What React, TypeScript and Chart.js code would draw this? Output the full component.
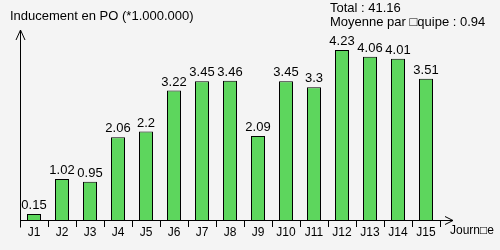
import React, { useEffect, useRef } from "react";
import { Chart, registerables } from "chart.js";

Chart.register(...registerables);

const categories = ["J1", "J2", "J3", "J4", "J5", "J6", "J7", "J8", "J9", "J10", "J11", "J12", "J13", "J14", "J15"];
const values = [0.15, 1.02, 0.95, 2.06, 2.2, 3.22, 3.45, 3.46, 2.09, 3.45, 3.3, 4.23, 4.06, 4.01, 3.51];
const titleText = "Inducement en PO (*1.000.000)";
const totalText = "Total : 41.16";
const averageText = "Moyenne par \u25A1quipe : 0.94";
const xAxisTitle = "Journ\u25A1e";

const FONT = "'Liberation Sans', Arial, sans-serif";

const decorPlugin = {
  id: "decor",
  beforeDraw(chart: any) {
    const { ctx, width, height } = chart;
    ctx.save();
    ctx.fillStyle = "#f4f4f4";
    ctx.fillRect(0, 0, width, height);
    ctx.restore();
  },
  afterDraw(chart: any) {
    const { ctx, chartArea } = chart;
    const x0 = chartArea.left + 0.5;
    const y0 = chartArea.bottom + 0.5;
    ctx.save();
    ctx.strokeStyle = "#000";
    ctx.lineWidth = 1;
    // y axis
    ctx.beginPath();
    ctx.moveTo(x0, 30);
    ctx.lineTo(x0, y0 + 7);
    ctx.stroke();
    ctx.beginPath();
    ctx.moveTo(16, 40);
    ctx.lineTo(x0, 30);
    ctx.lineTo(25, 40);
    ctx.stroke();
    // x axis
    ctx.beginPath();
    ctx.moveTo(x0, y0);
    ctx.lineTo(453, y0);
    ctx.stroke();
    ctx.beginPath();
    ctx.moveTo(445, y0 - 4);
    ctx.lineTo(453, y0);
    ctx.lineTo(445, y0 + 4);
    ctx.stroke();

    ctx.fillStyle = "#000";
    ctx.textBaseline = "middle";
    ctx.textAlign = "left";
    ctx.font = "13px " + FONT;
    ctx.fillText(titleText, 10, 16);
    ctx.fillText(totalText, 330, 8);
    ctx.fillText(averageText, 330, 22);
    ctx.font = "12px " + FONT;
    ctx.fillText(xAxisTitle, 450, 231);

    // value labels
    const meta = chart.getDatasetMeta(0);
    ctx.font = "13px " + FONT;
    ctx.textAlign = "center";
    ctx.textBaseline = "alphabetic";
    meta.data.forEach((bar: any, i: number) => {
      ctx.fillText(String(values[i]), bar.x, bar.y - 5);
    });
    ctx.restore();
  },
};

export default function App() {
  const ref = useRef<HTMLCanvasElement | null>(null);
  useEffect(() => {
    document.body.style.margin = "0";
    const chart = new Chart(ref.current as HTMLCanvasElement, {
      type: "bar",
      data: {
        labels: categories,
        datasets: [
          {
            data: values,
            backgroundColor: "#5dd65d",
            borderColor: "#000",
            borderWidth: 1,
            categoryPercentage: 1,
            barPercentage: 0.5,
          },
        ],
      },
      options: {
        animation: false,
        responsive: false,
        layout: { padding: { left: 20, top: 29, right: 60, bottom: 0 } },
        plugins: { legend: { display: false }, tooltip: { enabled: false } },
        scales: {
          x: {
            offset: true,
            border: { display: false },
            grid: {
              offset: true,
              drawOnChartArea: false,
              tickLength: 7,
              color: (c: any) => (c.index === 0 || c.index === categories.length ? "transparent" : "#000"),
            },
            ticks: {
              color: "#000",
              padding: -2,
              font: { family: FONT, size: 12 },
              maxRotation: 0,
              autoSkip: false,
            },
            afterFit: (s: any) => {
              s.height = 30;
            },
          },
          y: {
            display: false,
            min: 0,
            max: 4.75,
          },
        },
      },
      plugins: [decorPlugin],
    });
    return () => chart.destroy();
  }, []);
  return (
    <div style={{ width: 500, height: 250 }}>
      <canvas ref={ref} width={500} height={250} style={{ display: "block" }} />
    </div>
  );
}
